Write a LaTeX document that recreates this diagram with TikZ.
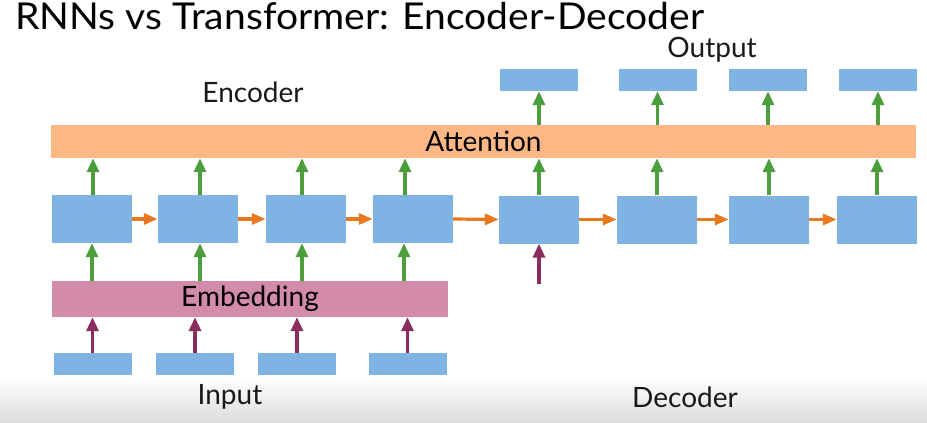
\documentclass[tikz,border=0pt]{standalone}
\usepackage{fontspec}
\setmainfont{Lato}
\usepackage{graphicx}
\usepackage{tikz}
\usetikzlibrary{arrows.meta}
\definecolor{cellblue}{HTML}{7FB3E4}
\definecolor{attorange}{HTML}{FDB784}
\definecolor{embpink}{HTML}{D38BAA}
\definecolor{flowgreen}{HTML}{4C9E3C}
\definecolor{flowpurple}{HTML}{8A2D5E}
\definecolor{floworange}{HTML}{E8791E}
\newcommand{\shaft}{3.2pt}
\newcommand{\labelsize}{\fontsize{28}{32}\selectfont}

\begin{document}
\begin{tikzpicture}[x=1pt, y=-1pt,
  cell/.style={fill=cellblue, minimum width=80pt, minimum height=48pt, inner sep=0pt},
  token/.style={fill=cellblue, minimum width=78pt, minimum height=22pt, inner sep=0pt},
  band/.style={inner sep=0pt, font=\labelsize},
  caption/.style={inner sep=0pt, font=\labelsize, text=black!90},
  up/.style={line width=\shaft, -{Triangle[length=14pt,width=12pt]}},
  ahead/.style={line width=\shaft, floworange, -{Triangle[length=14pt,width=11pt]}}]
\useasboundingbox (0,0) rectangle (927,423);
\shade[top color=white, bottom color=black!14] (0,378) rectangle (927,423);
%title
\node[anchor=base west, inner sep=0pt, font=\fontsize{37}{42}\selectfont] (title) at (15,30) {\scalebox{1.055}[1]{RNNs vs Transformer: Encoder-Decoder}};
%bars
\node[band, fill=attorange, minimum width=865pt, minimum height=33pt] (att) at (483.5,141.5) {Attention};
\node[band, fill=embpink, minimum width=396pt, minimum height=36pt] (emb) at (250,299) {Embedding};
%encoder cells
\node[cell] (e1) at (92,219) {};
\node[cell] (e2) at (198,219) {};
\node[cell] (e3) at (306,219) {};
\node[cell] (e4) at (413,219) {};
%decoder cells
\node[cell] (d1) at (539,219.5) {};
\node[cell] (d2) at (657,219.5) {};
\node[cell] (d3) at (769,219.5) {};
\node[cell] (d4) at (877,219.5) {};
%inputs
\node[token] (in1) at (92.5,364) {};
\node[token] (in2) at (195,364) {};
\node[token] (in3) at (297,364) {};
\node[token] (in4) at (407.5,364) {};
%outputs
\node[token] (out1) at (539,80) {};
\node[token] (out2) at (657.5,80) {};
\node[token] (out3) at (768,80) {};
\node[token] (out4) at (878,80) {};
\coordinate (dstart) at (539,284);
%labels
\node[caption] (enclabel) at (253,92) {Encoder};
\node[caption] (outlabel) at (712,50) {Output};
\node[caption] (inlabel) at (230,397) {Input};
\node[caption] (declabel) at (685,397) {Decoder};
%recurrence
\draw[ahead] (e1.east) -- (e2.west);
\draw[ahead] (e2.east) -- (e3.west);
\draw[ahead] (e3.east) -- (e4.west);
\draw[ahead] (e4.east) -- (d1.west);
\draw[ahead] (d1.east) -- (d2.west);
\draw[ahead] (d2.east) -- (d3.west);
\draw[ahead] (d3.east) -- (d4.west);
%inputs to embedding
\draw[up, flowpurple] (in1.north) -- (in1.north |- emb.south);
\draw[up, flowpurple] (in2.north) -- (in2.north |- emb.south);
\draw[up, flowpurple] (in3.north) -- (in3.north |- emb.south);
\draw[up, flowpurple] (in4.north) -- (in4.north |- emb.south);
\draw[up, flowpurple] (dstart) -- (d1.south);
%embedding to cells
\draw[up, flowgreen] (e1.south |- emb.north) -- (e1.south);
\draw[up, flowgreen] ([xshift=2pt]e2.south |- emb.north) -- ([xshift=2pt]e2.south);
\draw[up, flowgreen] ([xshift=-4pt]e3.south |- emb.north) -- ([xshift=-4pt]e3.south);
\draw[up, flowgreen] ([xshift=-9pt]e4.south |- emb.north) -- ([xshift=-9pt]e4.south);
%cells to attention
\draw[up, flowgreen] ([xshift=1pt]e1.north) -- ([xshift=1pt]e1.north |- att.south);
\draw[up, flowgreen] ([xshift=2pt]e2.north) -- ([xshift=2pt]e2.north |- att.south);
\draw[up, flowgreen] ([xshift=-4pt]e3.north) -- ([xshift=-4pt]e3.north |- att.south);
\draw[up, flowgreen] ([xshift=-8pt]e4.north) -- ([xshift=-8pt]e4.north |- att.south);
\draw[up, flowgreen] (d1.north) -- (d1.north |- att.south);
\draw[up, flowgreen] (d2.north) -- (d2.north |- att.south);
\draw[up, flowgreen] (d3.north) -- (d3.north |- att.south);
\draw[up, flowgreen] (d4.north) -- (d4.north |- att.south);
%attention to outputs
\draw[up, flowgreen] (out1.south |- att.north) -- (out1.south);
\draw[up, flowgreen] (out2.south |- att.north) -- (out2.south);
\draw[up, flowgreen] (out3.south |- att.north) -- (out3.south);
\draw[up, flowgreen] (out4.south |- att.north) -- (out4.south);
\end{tikzpicture}
\end{document}
